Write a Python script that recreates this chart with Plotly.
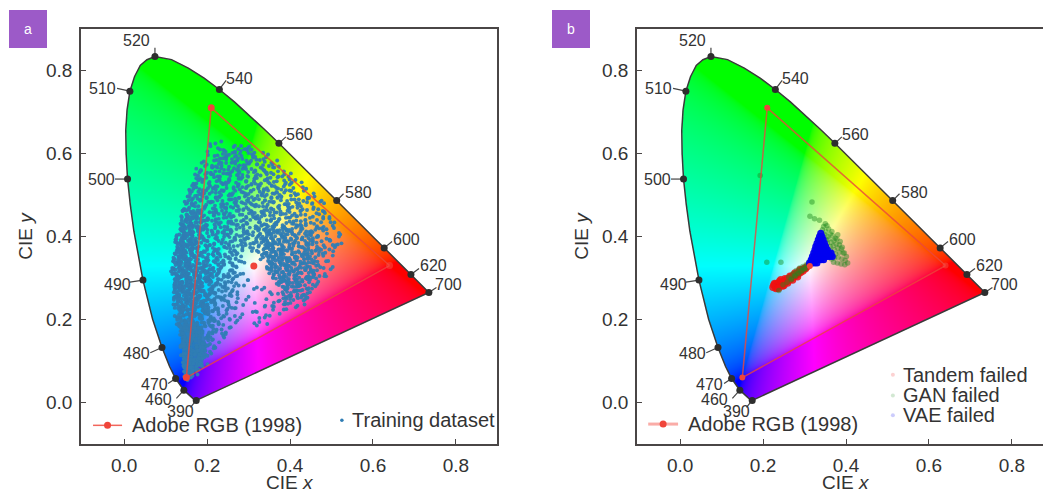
import base64, struct, zlib
import numpy as np
import plotly.graph_objects as go

locus_x = [.1741,.1738,.1733,.1726,.1714,.1689,.1644,.1566,.1440,.1241,.1096,.0913,.0687,.0454,.0235,.0147,.0082,.0049,.0039,.0071,.0139,.0250,.0389,.0550,.0743,.1142,.1547,.1929,.2296,.2658,.3016,.3373,.3731,.4087,.4441,.4788,.5125,.5448,.5752,.6029,.6270,.6658,.6915,.7079,.7190,.7260,.7300,.7334,.7347]
locus_y = [.0050,.0049,.0048,.0048,.0051,.0069,.0109,.0177,.0297,.0578,.0868,.1327,.2007,.2950,.4127,.4780,.5384,.5980,.6548,.7050,.7502,.7850,.8120,.8260,.8338,.8262,.8059,.7816,.7543,.7243,.6923,.6589,.6245,.5896,.5547,.5202,.4866,.4544,.4242,.3965,.3725,.3340,.3083,.2920,.2809,.2740,.2700,.2666,.2653]

wave_labels = ["520","540","560","580","600","620","700","510","500","490","480","470","460","390"]
wave_x = [.0743,.2296,.3731,.5125,.6270,.6915,.7347,.0139,.0082,.0454,.0913,.1241,.1440,.1738]
wave_y = [.8338,.7543,.6245,.4866,.3725,.3083,.2653,.7502,.5384,.2950,.1327,.0578,.0297,.0049]
leader_x = [.0743,.246,.39,.529,.646,.711,.753,-.017,-.022,.014,.063,.106,.126,.16]
leader_y = [.855,.776,.640,.503,.388,.323,.277,.757,.5384,.29,.12,.046,.01,-.012]
text_x = [.031,.277,.424,.564,.680,.747,.781,-.051,-.055,-.017,.029,.072,.084,.135]
text_y = [.872,.781,.646,.506,.393,.330,.284,.757,.537,.284,.118,.043,.007,-.022]

adobe_x = [.64,.21,.15,.64]
adobe_y = [.33,.71,.06,.33]
white_x = [.3127]
white_y = [.329]

# solid part of the training cloud, where single dots cannot be told apart
dense_x = [.148,.141,.137,.136,.165,.19,.2,.19,.165,.148]
dense_y = [.066,.11,.15,.19,.20,.17,.135,.095,.07,.066]

train_y = [.623,.615,.606,.596,.585,.574,.563,.552,.541,.530,.519,.508,.497,.486,.475,.464,.453,.442,.431,.420,.409,.398,.387,.376,.365,.354,.343,.332,.321,.310,.299,.288,.277,.266,.255,.244,.233,.222,.211,.200,.189,.178,.167,.156,.145,.134,.123,.112,.101,.090,.079,.068,.060]
train_x_milli = [
[205,238,262],
[221,248,279,301],
[229,244,258,271,283,297,312],
[205,226,239,252,263,277,288,299,316,331],
[194,218,233,241,256,268,279,294,305,322,341],
[200,213,227,246,251,272,284,291,309,318,333,352,368],
[187,209,222,235,249,261,270,286,298,313,329,344,361,376],
[181,198,217,228,243,256,275,281,296,307,320,337,349,366,387,402],
[176,193,205,224,237,250,266,279,293,302,316,331,344,358,372,391],
[171,186,201,214,231,244,259,272,284,299,311,327,339,352,369,383,398,416],
[166,179,194,209,221,236,251,263,276,291,304,318,333,346,361,375,390,408,431],
[161,174,183,199,212,228,243,254,269,283,296,312,325,341,353,368,381,396,413,442],
[157,168,179,191,206,219,234,248,261,274,289,302,315,331,344,358,372,386,401,418,437,458],
[152,163,171,186,198,213,226,241,256,267,281,295,309,322,336,349,363,378,392,407,424,446,471],
[148,158,167,178,192,204,221,233,247,262,276,288,303,317,329,344,356,371,384,399,414,431,452,484],
[145,155,164,174,186,199,211,228,239,254,268,283,297,308,323,337,350,364,377,391,405,421,440,462,478],
[143,152,160,171,182,194,207,219,236,249,261,276,291,303,316,329,343,357,369,383,396,411,429,447,469,491],
[140,149,158,167,178,189,201,214,227,243,257,269,284,297,311,324,335,348,361,374,387,402,418,436,455,476],
[138,147,155,164,174,185,197,209,223,236,251,264,278,289,304,318,331,342,355,368,379,393,408,425,443,461,483,507],
[136,144,152,161,171,181,192,204,217,231,245,258,271,286,299,312,326,337,349,361,372,384,397,412,429,446,463,481,498],
[134,142,150,158,167,177,188,200,213,226,240,253,266,279,294,307,319,331,343,354,365,377,389,403,418,434,451,467,486,512],
[130,139,147,155,164,173,184,195,208,221,234,247,261,274,288,301,314,325,337,348,358,369,381,394,408,423,439,454,472,491,523],
[127,136,144,152,160,169,179,190,203,216,228,241,255,268,282,296,308,320,331,342,352,362,374,386,399,413,428,443,459,476,497,521],
[126,134,141,149,157,165,175,186,198,210,223,236,249,262,276,289,303,316,327,338,347,357,368,380,392,405,419,433,447,463,480,506],
[124,131,139,146,154,163,172,182,194,206,218,231,244,257,270,283,312,333,344,353,363,374,385,397,410,424,438,452,468,489,503],
[123,130,137,144,152,160,169,179,190,201,214,226,238,252,265,279,323,340,350,359,369,380,391,403,416,429,443,458,476,497],
[122,129,136,143,150,158,166,176,187,198,209,221,234,247,260,274,286,337,347,356,366,376,387,399,411,424,437,451,466,488],
[121,128,135,142,149,156,165,174,184,195,206,218,230,243,255,268,281,341,352,361,371,381,393,404,417,430,444,459,479],
[120,127,134,141,148,155,163,172,182,192,203,215,227,239,252,264,277,347,358,367,377,388,399,411,423,436,449,468,499],
[119,126,133,140,147,154,162,171,180,190,201,212,224,236,248,261,272,355,366,375,385,396,407,419,431,445,461,484],
[120,127,134,141,148,155,163,172,181,191,202,213,225,237,249,262,278,294,362,373,383,394,405,417,429,442,457,474],
[120,127,135,142,149,157,165,174,184,194,205,217,229,242,256,272,301,368,380,391,402,414,426,439,455,471],
[121,128,136,143,151,159,168,177,187,198,210,222,235,249,265,285,322,373,386,398,410,422,436,452],
[122,129,137,145,153,161,170,180,190,201,213,226,240,256,276,331,376,390,403,416,431,447],
[123,131,139,147,155,164,173,183,194,206,219,232,247,268,301,362,381,396,411,428,441],
[124,132,141,149,158,167,176,187,198,210,223,238,256,283,345,372,389,405,422,436],
[125,134,143,152,161,170,180,191,203,216,230,247,268,321,358,379,398,417],
[127,136,145,155,164,174,185,197,209,223,241,263,309,344,371,393],
[128,138,148,158,168,179,191,203,217,233,252,276,322,351],
[130,140,150,161,172,184,197,211,226,246,269,316,339],
[131,142,153,165,177,190,204,220,238,259,322,347],
[133,144,156,168,181,195,211,229,248],
[135,146,158,171,185,200,217,234],
[136,147,159,172,186,201,219,241],
[138,148,158,169,181,194,209,226],
[139,149,158,168,179,192,207,218],
[141,149,157,166,176,187,199],
[142,149,156,164,172,181,192,205],
[143,150,156,163,170,178,188,197],
[145,150,155,161,167,174,183],
[146,151,156,162,168,176],
[147,152,158,165],
[149,154],
]

train2_y = [.6105,.6005,.5905,.5795,.5685,.5575,.5465,.5355,.5245,.5135,.5025,.4915,.4805,.4695,.4585,.4475,.4365,.4255,.4145,.4035,.3925,.3815,.3705,.3595,.3485,.3375,.3265,.3155,.3045,.2935,.2825,.2715,.2605,.2495,.2385,.2275,.2165,.2055,.1945,.1835,.1725,.1615,.1505,.1395,.1285,.1175,.1065,.0955,.0845,.0735,.0625]
train2_x_milli = [
[214,236,255,267,289,306],
[198,233,247,266,274,292,309,322],
[222,237,249,259,284,302,313,327,345],
[191,207,224,236,243,262,278,286,300,316,338,355],
[183,203,216,229,240,256,266,281,293,306,325,339,358,371],
[178,195,213,221,238,245,268,277,290,303,318,333,342,363,381],
[172,189,206,219,233,246,261,272,287,299,312,325,341,355,378,396],
[168,182,197,211,226,241,253,268,281,290,308,321,336,347,364,380,407],
[163,176,188,204,218,229,247,257,271,288,297,315,328,343,358,371,388,403,423],
[159,170,185,196,215,224,240,258,266,279,293,309,322,336,350,364,379,393,410,436],
[155,165,176,188,203,216,230,245,252,271,286,299,311,328,339,355,367,383,398,415,449],
[150,160,174,184,194,210,223,237,250,264,278,292,306,319,334,347,360,375,389,404,421,439,463],
[147,156,169,181,189,206,218,230,244,259,271,285,300,313,326,341,353,368,381,396,411,428,456,476],
[144,153,162,172,183,195,208,224,237,251,265,279,293,304,320,333,347,360,374,388,402,417,435,449,481],
[141,150,159,168,176,190,203,215,231,245,258,272,287,300,313,326,340,353,366,380,393,408,424,442,464,486],
[139,148,156,165,175,186,198,210,224,239,252,266,281,294,307,321,332,345,358,371,384,399,414,431,451,472,495],
[137,145,153,162,171,183,194,206,220,233,247,260,274,286,301,315,328,339,352,365,377,390,405,421,439,458,478,502],
[135,143,151,159,168,179,190,202,215,228,242,255,268,282,296,309,322,334,346,358,370,382,394,409,426,442,459,476,494],
[133,141,149,157,165,175,186,197,211,224,237,250,263,276,291,304,316,328,340,351,362,374,387,400,415,431,447,464,483,505],
[131,138,146,154,162,171,181,193,206,218,231,244,258,271,285,298,311,322,334,345,356,367,379,391,405,420,435,450,469,488,516],
[128,135,143,151,158,167,177,188,200,213,226,238,252,265,279,292,305,317,328,339,349,360,371,383,396,410,424,440,456,473,494,518],
[126,133,141,148,156,164,173,184,196,208,220,233,246,259,273,286,300,313,324,335,344,355,365,377,389,402,416,430,445,461,478,503],
[125,132,138,146,153,161,170,180,191,203,216,228,241,254,268,280,294,330,341,350,360,371,382,394,407,421,435,449,465,485,510],
[124,130,137,144,151,159,167,177,188,199,211,223,236,249,262,276,319,337,347,356,366,377,388,400,413,426,440,455,472,494],
[123,129,135,142,149,157,165,174,185,196,207,219,231,244,257,271,283,342,352,361,372,383,394,406,419,433,447,462,482],
[122,128,134,141,148,155,163,172,183,193,204,216,228,241,254,267,345,356,364,374,385,396,408,421,434,447,463,485],
[121,127,133,140,147,154,161,170,180,190,201,213,225,237,250,262,350,361,370,380,391,402,414,427,440,455,472,498],
[120,126,132,139,146,153,160,169,178,188,199,210,222,234,246,258,274,358,369,379,390,401,413,426,439,453,466,490],
[119,125,131,138,145,152,159,168,177,187,198,209,220,232,245,257,286,364,376,386,398,410,423,435,449,464,480],
[120,126,132,139,146,153,160,169,178,188,199,210,222,234,247,260,275,371,383,396,408,420,433,447,462],
[120,126,133,140,147,155,163,171,180,191,202,214,226,239,253,268,312,378,390,402,415,428,444,460],
[121,127,134,141,149,157,165,174,184,195,207,219,232,246,262,335,384,397,409,423,438,455],
[122,128,135,143,151,159,168,178,188,199,211,224,238,254,272,356,379,394,408,422,436],
[123,130,137,145,153,162,171,181,192,204,216,229,244,262,293,366,386,402,417,431],
[124,131,139,147,156,165,175,185,196,208,221,235,252,275,352,376,394,411],
[126,133,141,150,159,168,178,189,201,214,228,244,266,334,362,384],
[127,135,144,153,163,173,184,196,209,225,243,270,316,347],
[129,137,146,156,166,177,189,202,216,233,258,284,331],
[130,139,149,159,170,182,195,209,225,248,272,319],
[132,141,151,162,174,187,201,216,234,254],
[134,143,153,164,176,189,204,221,240],
[135,145,155,166,178,192,207,226],
[137,146,155,165,176,188,202,218,238],
[138,147,155,164,174,186,199,214],
[140,147,154,162,171,181,193,206,222],
[141,148,155,162,170,179,188,200],
[143,149,155,161,168,176,185,201],
[144,149,154,160,166,173,181,192],
[145,150,155,160,166,172,179],
[146,151,156,162,168],
[148,153,160],
]

train3_y = [.4535,.4425,.4315,.4205,.4095,.3985,.3875,.3765,.3655,.3545,.3435,.3285,.3175,.3065,.2955,.2845,.2735,.2625,.2515,.2405,.2295,.2185,.2075,.1965,.1855,.1745,.1635,.1525,.1415,.1305,.1195,.1085,.0975,.0865,.0755,.0645]
train3_x_milli = [
[146,155,164,174,186],
[144,153,162,171,183],
[141,150,159,168,179,191],
[139,148,156,165,175,187,332,345,356,366,378,391,404,417,431],
[137,146,154,162,172,183,336,349,360,371,383,396,410,425,440,457],
[134,143,151,159,169,180,329,342,352,363,375,387,400,414,430,446,463],
[131,140,148,156,165,175,335,347,357,368,379,392,406,421,436,451],
[129,137,145,153,161,171,341,352,362,373,385,398,412,427,442,458],
[127,135,142,150,158,167,338,348,358,369,380,392,405,417,431,446,461],
[126,133,140,148,156,164,344,355,365,375,386,398,410,423,437,452],
[125,132,139,146,154,162,351,361,371,381,392,404,417,430,444,459],
[124,131,138,145,152,159,168,177,188,199,211,223,347,357,367,377,387,398,411,424,438,453],
[123,130,137,144,151,158,166,175,186,197,209,221,353,363,373,383,394,405,417,430,443,457],
[122,129,136,143,150,157,165,174,184,195,207,219,360,371,381,391,402,413,425,438,452],
[123,130,137,144,151,158,166,175,186,197,208,220,368,378,389,400,411,423,435,448],
[124,131,138,145,152,160,168,178,188,200,211,223,374,385,396,408,420,432,447],
[125,132,139,147,155,162,171,181,192,204,216,381,392,404,416,429,443],
[126,133,141,149,157,166,175,186,197,209,221,386,398,411,424,437],
[127,135,143,151,160,169,179,190,201,213,389,403,416,430],
[129,137,145,154,163,172,182,193,205,218],
[130,138,147,156,166,176,187,199,212],
[131,140,150,159,169,180,192,205,219],
[133,142,152,163,174,186,199,213],
[134,144,154,165,176,189,203,218],
[136,146,157,168,180,193,207],
[137,148,159,171,184,198,213],
[139,149,161,174,187,202],
[140,150,161,172,185,199],
[141,150,160,170,182,195],
[142,150,159,169,180,192,204],
[143,151,159,168,178,188],
[144,151,158,166,175,185],
[145,151,157,164,172,181,190],
[146,151,157,163,170,178],
[147,152,158,165,172],
[149,155,161],
]
# uneven placement of dots around their reading row
spread_y = [0, .006, -.004, .009, -.008, .003, -.006, .007, -.002, -.009, .005]
spread_x = [.002, -.004, .005, -.001, -.006, .003, .006, -.003, .001, -.005, .004, -.002, 0]

tandem_x = [.226,.230,.232,.236,.238,.242,.245,.248,.251,.254,.257,.260,.263,.266,.269,.272,.275,.278,.281,.284,.287,.290,.293,.296,.299,.302,.306,.228,.234,.231,.240,.247,.253,.259,.265,.271,.277,.283,.289,.224,.237,.243,.250]
tandem_y = [.283,.279,.286,.281,.288,.284,.290,.286,.293,.290,.297,.293,.300,.297,.304,.301,.308,.305,.311,.309,.315,.313,.319,.317,.323,.322,.327,.287,.277,.275,.292,.281,.298,.288,.304,.295,.312,.303,.320,.278,.275,.296,.282]
gan_x = [.350,.346,.354,.343,.351,.358,.349,.356,.362,.366,.352,.359,.368,.374,.380,.355,.364,.371,.378,.386,.362,.369,.376,.384,.391,.362,.372,.380,.389,.396,.366,.375,.384,.393,.401,.365,.372,.381,.390,.398,.404,.370,.379,.388,.397,.313,.324,.336,.209,.243,.318,.193,.248,.258,.268,.276,.284,.292,.300,.262,.272,.280,.288,.296,.304,.310,.316,.322,.238,.268,.278,.286,.294,.302,.308,.314]
gan_y = [.4305,.424,.426,.416,.412,.418,.404,.400,.406,.412,.392,.394,.402,.396,.404,.384,.386,.390,.394,.388,.376,.378,.382,.380,.374,.366,.368,.372,.370,.360,.356,.358,.362,.360,.352,.346,.348,.350,.346,.342,.336,.338,.336,.334,.332,.449,.443,.439,.338,.338,.483,.547,.284,.290,.298,.306,.312,.316,.322,.302,.310,.318,.324,.328,.332,.338,.342,.350,.270,.296,.304,.310,.318,.322,.330,.336]
vae_x = [.339,.336,.342,.333,.339,.345,.330,.336,.342,.348,.327,.333,.339,.345,.351,.325,.331,.337,.343,.349,.355,.322,.328,.334,.340,.346,.352,.358,.364,.319,.325,.331,.337,.343,.349,.355,.361,.367,.316,.322,.328,.334,.340,.346,.312,.318,.324,.330]
vae_y = [.408,.400,.400,.392,.392,.392,.384,.384,.384,.384,.376,.376,.376,.376,.376,.368,.368,.368,.368,.368,.368,.360,.360,.360,.360,.360,.360,.360,.360,.352,.352,.352,.352,.352,.352,.352,.352,.352,.344,.344,.344,.344,.344,.344,.336,.336,.336,.336]

xticks = [0, .2, .4, .6, .8]
yticks = [0, .2, .4, .6, .8]

TXT = "#333333"
FONT = "Liberation Sans"
BLUE = "#2f7db4"
RED = "#f0453a"

# chromaticity background
step = .001
gx = np.arange(-.02, .76, step)
gy = np.arange(.86, -.02, -step)
X, Y = np.meshgrid(gx, gy)
Ys = np.maximum(Y, 1e-4)
XX, YY, ZZ = X / Ys, np.ones_like(X), (1 - X - Y) / Ys
R = 3.2406 * XX - 1.5372 * YY - .4986 * ZZ
G = -.9689 * XX + 1.8758 * YY + .0415 * ZZ
B = .0557 * XX - .2040 * YY + 1.0570 * ZZ
rgb = np.clip(np.stack([R, G, B], -1), 0, None)
rgb = rgb / np.maximum(rgb.max(-1, keepdims=True), 1e-6)
rgb = np.where(rgb <= .0031308, 12.92 * rgb, 1.055 * rgb ** (1 / 2.4) - .055)
px, py = np.array(locus_x), np.array(locus_y)
qx, qy = np.roll(px, -1), np.roll(py, -1)
inside = np.zeros(X.shape, bool)
for a, b, c, d in zip(px, py, qx, qy):
    cond = (b > Y) != (d > Y)
    with np.errstate(divide="ignore", invalid="ignore"):
        xc = a + (Y - b) * (c - a) / (d - b)
    inside ^= cond & (X < xc)
rgba = np.dstack([(rgb * 255).astype(np.uint8), (inside * 255).astype(np.uint8)])


def png_uri(a):
    h, w = a.shape[:2]
    raw = b"".join(b"\x00" + a[i].tobytes() for i in range(h))
    def chunk(t, d):
        return struct.pack(">I", len(d)) + t + d + struct.pack(">I", zlib.crc32(t + d))
    data = b"\x89PNG\r\n\x1a\n" + chunk(b"IHDR", struct.pack(">IIBBBBB", w, h, 8, 6, 0, 0, 0)) + chunk(b"IDAT", zlib.compress(raw, 6)) + chunk(b"IEND", b"")
    return "data:image/png;base64," + base64.b64encode(data).decode()


uri = png_uri(rgba)
W, H = 1043, 492
fig = go.Figure()
annotations, images, shapes = [], [], []


def add_panel(n, left, right, xlim):
    xa, ya = ("x", "y") if n == 1 else ("x2", "y2")
    common = dict(showgrid=False, zeroline=False, showline=True, mirror=True, linecolor="#4a4646", linewidth=1.6,
                  ticks="inside", ticklen=5, tickwidth=1.3, tickcolor="#4a4646", tickformat=".1f",
                  tickfont=dict(family=FONT, size=19, color=TXT))
    fig.update_layout({
        ("xaxis" if n == 1 else "xaxis2"): dict(common, domain=[left / W, right / W], range=xlim, tickvals=xticks, anchor=ya,
            ticklabelstandoff=3),
        ("yaxis" if n == 1 else "yaxis2"): dict(common, domain=[1 - 444 / H, 1 - 29 / H], range=[-.1, .9], tickvals=yticks, anchor=xa,
            ticklabelstandoff=3, title=dict(text="CIE <i>y</i>", font=dict(family=FONT, size=19, color=TXT), standoff=8)),
    })
    annotations.append(dict(x=.4, y=1 - 482 / H, xref=xa, yref="paper", yanchor="middle", text="CIE <i>x</i>", showarrow=False,
                            font=dict(family=FONT, size=19, color=TXT)))
    images.append(dict(source=uri, xref=xa, yref=ya, x=gx[0] - step / 2, y=gy[0] + step / 2, sizex=step * len(gx), sizey=step * len(gy),
                       sizing="stretch", layer="below"))
    fig.add_trace(go.Scatter(x=locus_x + locus_x[:1], y=locus_y + locus_y[:1], mode="lines", xaxis=xa, yaxis=ya, showlegend=False,
                             line=dict(color="#3a3a3a", width=1.5)))
    for i, lab in enumerate(wave_labels):
        fig.add_trace(go.Scatter(x=[wave_x[i], leader_x[i]], y=[wave_y[i], leader_y[i]], mode="lines", xaxis=xa, yaxis=ya,
                                 showlegend=False, line=dict(color="#444444", width=1.2)))
        annotations.append(dict(x=text_x[i], y=text_y[i], xref=xa, yref=ya, text=lab, showarrow=False,
                                font=dict(family=FONT, size=16, color=TXT)))
    fig.add_trace(go.Scatter(x=wave_x, y=wave_y, mode="markers", xaxis=xa, yaxis=ya, showlegend=False,
                             marker=dict(color="#2e2e2e", size=7)))
    return xa, ya


def label(xa, ya, x, y, text):
    annotations.append(dict(x=x, y=y, xref=xa, yref=ya, text=text, showarrow=False, xanchor="left",
                            font=dict(family=FONT, size=20, color=TXT)))


# panel a
xa, ya = add_panel(1, 81, 497, [-.104, .899])
tx, ty = [], []
k = 0
for ys, rows in ((train_y, train_x_milli), (train2_y, train2_x_milli), (train3_y, train3_x_milli)):
    for y, row in zip(ys, rows):
        for v in row:
            tx.append(v / 1000 + spread_x[k % len(spread_x)])
            ty.append(y + spread_y[k % len(spread_y)])
            k += 1
fig.add_trace(go.Scatter(x=dense_x, y=dense_y, mode="lines", fill="toself", xaxis=xa, yaxis=ya, showlegend=False,
                         line=dict(width=0), fillcolor="rgba(47,125,180,.85)"))
fig.add_trace(go.Scatter(x=tx, y=ty, mode="markers", xaxis=xa, yaxis=ya, name="Training dataset", showlegend=False,
                         marker=dict(color=BLUE, size=3.9, opacity=.95)))
fig.add_trace(go.Scatter(x=adobe_x, y=adobe_y, mode="lines", xaxis=xa, yaxis=ya, showlegend=False,
                         line=dict(color="rgba(235,70,60,.8)", width=1.5)))
fig.add_trace(go.Scatter(x=adobe_x[:3] + white_x, y=adobe_y[:3] + white_y, mode="markers", xaxis=xa, yaxis=ya, showlegend=False,
                         marker=dict(color=["rgba(245,80,70,.5)", RED, RED, RED], size=7)))
fig.add_trace(go.Scatter(x=[-.075, -.005], y=[-.055, -.055], mode="lines", xaxis=xa, yaxis=ya, showlegend=False,
                         line=dict(color="#f2665c", width=1.5)))
fig.add_trace(go.Scatter(x=[-.04], y=[-.055], mode="markers", xaxis=xa, yaxis=ya, showlegend=False, marker=dict(color=RED, size=7)))
label(xa, ya, .013, -.055, "Adobe RGB (1998)")
fig.add_trace(go.Scatter(x=[.525], y=[-.043], mode="markers", xaxis=xa, yaxis=ya, showlegend=False, marker=dict(color=BLUE, size=3.5)))
label(xa, ya, .545, -.041, "Training dataset")

# panel b
xa, ya = add_panel(2, 637, 1043, [-.104, .875])
fig.update_layout(yaxis2_mirror=False)
fig.add_trace(go.Scatter(x=tandem_x, y=tandem_y, mode="markers", xaxis=xa, yaxis=ya, showlegend=False,
                         marker=dict(color="#f01010", size=7.5, opacity=.85)))
fig.add_trace(go.Scatter(x=gan_x, y=gan_y, mode="markers", xaxis=xa, yaxis=ya, showlegend=False,
                         marker=dict(color="#1f8a1f", size=5.5, opacity=.45)))
fig.add_trace(go.Scatter(x=vae_x, y=vae_y, mode="markers", xaxis=xa, yaxis=ya, showlegend=False,
                         marker=dict(color="#0000f0", size=7, opacity=.95)))
fig.add_trace(go.Scatter(x=adobe_x, y=adobe_y, mode="lines", xaxis=xa, yaxis=ya, showlegend=False,
                         line=dict(color="rgba(235,70,60,.8)", width=1.5)))
fig.add_trace(go.Scatter(x=adobe_x[:3] + white_x, y=adobe_y[:3] + white_y, mode="markers", xaxis=xa, yaxis=ya, showlegend=False,
                         marker=dict(color=["rgba(245,80,70,.5)", RED, RED, RED], size=6)))
fig.add_trace(go.Scatter(x=[-.077, -.005], y=[-.052, -.052], mode="lines", xaxis=xa, yaxis=ya, showlegend=False,
                         line=dict(color="rgba(245,90,80,.5)", width=3)))
fig.add_trace(go.Scatter(x=[-.041], y=[-.052], mode="markers", xaxis=xa, yaxis=ya, showlegend=False, marker=dict(color=RED, size=7)))
label(xa, ya, .013, -.052, "Adobe RGB (1998)")
for (lx, ly, col, txt) in [(.513, .067, "rgba(240,30,30,.2)", "Tandem failed"), (.513, .017, "rgba(30,140,30,.2)", "GAN failed"),
                           (.513, -.031, "rgba(0,0,240,.2)", "VAE failed")]:
    fig.add_trace(go.Scatter(x=[lx], y=[ly], mode="markers", xaxis=xa, yaxis=ya, showlegend=False, marker=dict(color=col, size=4)))
    label(xa, ya, .533, ly, txt)

# badges
for x0, t in [(9, "a"), (552, "b")]:
    shapes.append(dict(type="rect", xref="paper", yref="paper", x0=x0 / W, x1=(x0 + 38) / W, y0=1 - 48 / H, y1=1 - 10 / H,
                       fillcolor="#9c5ac8", line=dict(width=0)))
    annotations.append(dict(x=(x0 + 19) / W, y=1 - 29 / H, xref="paper", yref="paper", xanchor="center", yanchor="middle", text=t, showarrow=False,
                            font=dict(family=FONT, size=14, color="white")))

fig.update_layout(width=W, height=H, margin=dict(l=0, r=0, t=0, b=0), paper_bgcolor="white", plot_bgcolor="white",
                  images=images, shapes=shapes, annotations=annotations, showlegend=False)
fig.write_html("out.html", config=dict(displayModeBar=False),
               post_script="document.body.style.margin='0';document.documentElement.style.overflow='hidden';")
